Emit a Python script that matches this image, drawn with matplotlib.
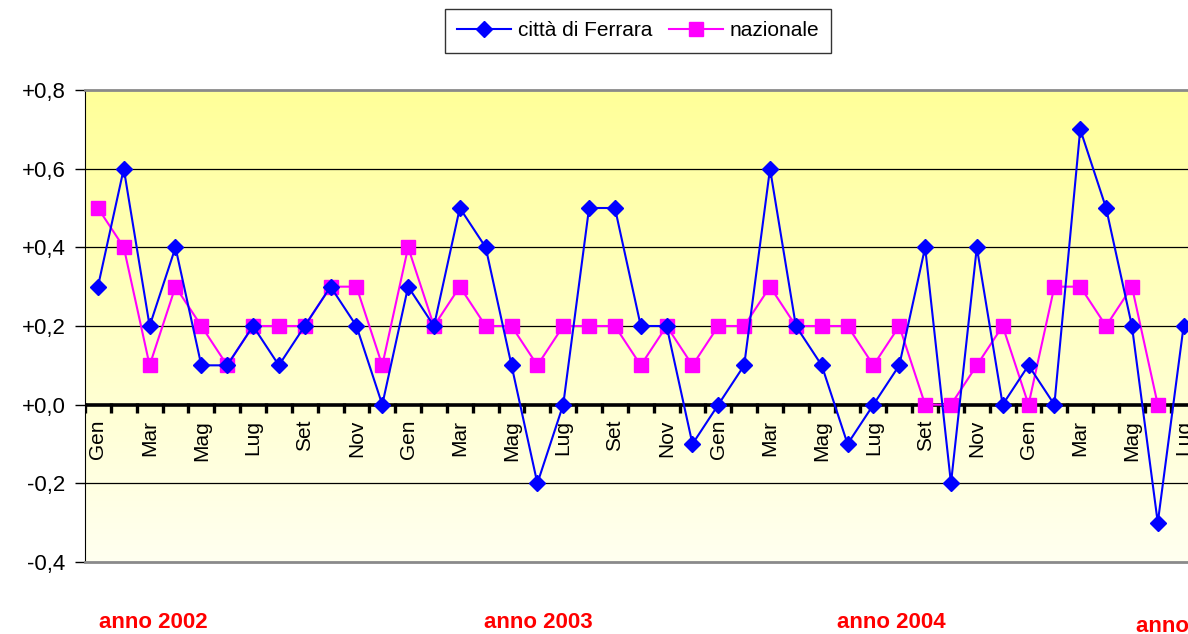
import numpy as np
import matplotlib
matplotlib.use("Agg")
import matplotlib.pyplot as plt
from matplotlib.colors import LinearSegmentedColormap

plt.rcParams['font.family'] = ['Liberation Sans', 'DejaVu Sans']

# monthly change (%), Gen 2002 .. Lug 2005
months = ['Gen', 'Feb', 'Mar', 'Apr', 'Mag', 'Giu', 'Lug', 'Ago', 'Set', 'Ott', 'Nov', 'Dic']
years = ['anno 2002', 'anno 2003', 'anno 2004', 'anno 2005']

ferrara = [0.3, 0.6, 0.2, 0.4, 0.1, 0.1, 0.2, 0.1, 0.2, 0.3, 0.2, 0.0,
           0.3, 0.2, 0.5, 0.4, 0.1, -0.2, 0.0, 0.5, 0.5, 0.2, 0.2, -0.1,
           0.0, 0.1, 0.6, 0.2, 0.1, -0.1, 0.0, 0.1, 0.4, -0.2, 0.4, 0.0,
           0.1, 0.0, 0.7, 0.5, 0.2, -0.3, 0.2]
nazionale = [0.5, 0.4, 0.1, 0.3, 0.2, 0.1, 0.2, 0.2, 0.2, 0.3, 0.3, 0.1,
             0.4, 0.2, 0.3, 0.2, 0.2, 0.1, 0.2, 0.2, 0.2, 0.1, 0.2, 0.1,
             0.2, 0.2, 0.3, 0.2, 0.2, 0.2, 0.1, 0.2, 0.0, 0.0, 0.1, 0.2,
             0.0, 0.3, 0.3, 0.2, 0.3, 0.0]

n = len(ferrara)
x_fe = np.arange(n)
x_na = np.arange(len(nazionale))

fig = plt.figure(figsize=(11.88, 6.34), dpi=100)
ax = fig.add_axes([85 / 1188, 72 / 634, (43 * 25.85) / 1188, 472 / 634])

# yellow gradient background
cmap = LinearSegmentedColormap.from_list('bg', ['#FFFFF0', '#FFFF99'])
grad = np.linspace(0, 1, 256).reshape(-1, 1)
ax.imshow(grad, cmap=cmap, origin='lower', aspect='auto',
          extent=[-0.5, n - 0.5, -0.4, 0.8], zorder=0)

ax.set_xlim(-0.5, n - 0.5)
ax.set_ylim(-0.4, 0.8)
ax.set_yticks(np.arange(-0.4, 0.81, 0.2))
ax.set_yticklabels(['-0,4', '-0,2', '+0,0', '+0,2', '+0,4', '+0,6', '+0,8'])
ax.tick_params(axis='y', labelsize=16, length=7, width=1, pad=7)
ax.set_xticks([])

for y in [-0.2, 0.2, 0.4, 0.6]:
    ax.axhline(y, color='black', lw=0.9, zorder=1)

# zero axis with category ticks
ax.axhline(0, color='black', lw=2.6, zorder=2)
ax.vlines(np.arange(n + 1) - 0.5, -0.022, 0.004, color='black', lw=2.4, zorder=2)
for i in range(n):
    if i % 2 == 0:
        ax.annotate(months[i % 12], xy=(i, 0), xytext=(0, -11), textcoords='offset points',
                    rotation=90, ha='center', va='top', fontsize=15, annotation_clip=False)

ax.spines['left'].set_color('black')
ax.spines['right'].set_visible(False)
for s in ['top', 'bottom']:
    ax.spines[s].set_color('#8a8a8a')
    ax.spines[s].set_linewidth(2)

l_na, = ax.plot(x_na, nazionale, color='#FF00FF', lw=1.5, marker='s', markersize=10,
                markeredgecolor='#FF00FF', zorder=3, label='nazionale')
l_fe, = ax.plot(x_fe, ferrara, color='#0000FF', lw=1.5, marker='D', markersize=8,
                markeredgecolor='#0000FF', zorder=4, label='città di Ferrara')

leg = fig.legend(handles=[l_fe, l_na], loc='center', bbox_to_anchor=(638 / 1188, 1 - 31 / 634),
                 ncol=2, fontsize=15, frameon=True, fancybox=False, handlelength=2.6,
                 handletextpad=0.3, columnspacing=0.8, borderpad=0.6, borderaxespad=0)
leg.get_frame().set_edgecolor('black')
leg.get_frame().set_linewidth(1)

# year labels
year_pos = [(153, 622, 'center'), (538, 622, 'center'), (891, 622, 'center'), (1136, 627, 'left')]
for txt, (px, py, ha) in zip(years, year_pos):
    fig.text(px / 1188, 1 - py / 634, txt, color='#FF0000', fontsize=16, fontweight='bold',
             ha=ha, va='center')

fig.savefig('out.png', dpi=100)
